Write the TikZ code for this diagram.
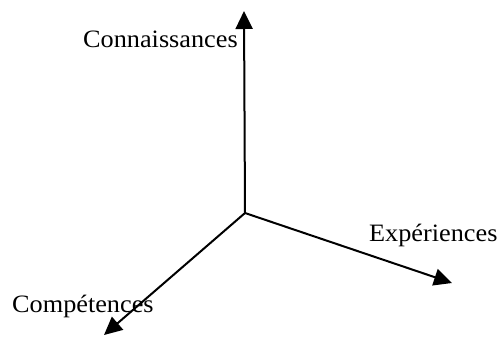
\documentclass[tikz,border=0pt]{standalone}
\usepackage{fontspec}
\setmainfont{Liberation Serif}[FakeStretch=1.05]
\usetikzlibrary{arrows.meta}
\begin{document}
\begin{tikzpicture}[x=1pt,y=-1pt,
  axis/.style={line width=2pt,-{Triangle[length=18pt,width=17pt]}},
  lbl/.style={anchor=base west,inner sep=0pt,font=\fontsize{25pt}{28pt}\selectfont}]
\useasboundingbox (0,0) rectangle (497,338);
\coordinate (O) at (245,213);
\coordinate (T) at (244,11);
\coordinate (R) at (452,283);
\coordinate (L) at (104,335);
\draw[axis] (O) -- (T);
\draw[axis] (O) -- (R);
\draw[axis] (O) -- (L);
\node[lbl] (c1) at (83,47) {Connaissances};
\node[lbl] (c2) at (369,241) {Expériences};
\node[lbl] (c3) at (12,312) {Compétences};
\end{tikzpicture}
\end{document}
